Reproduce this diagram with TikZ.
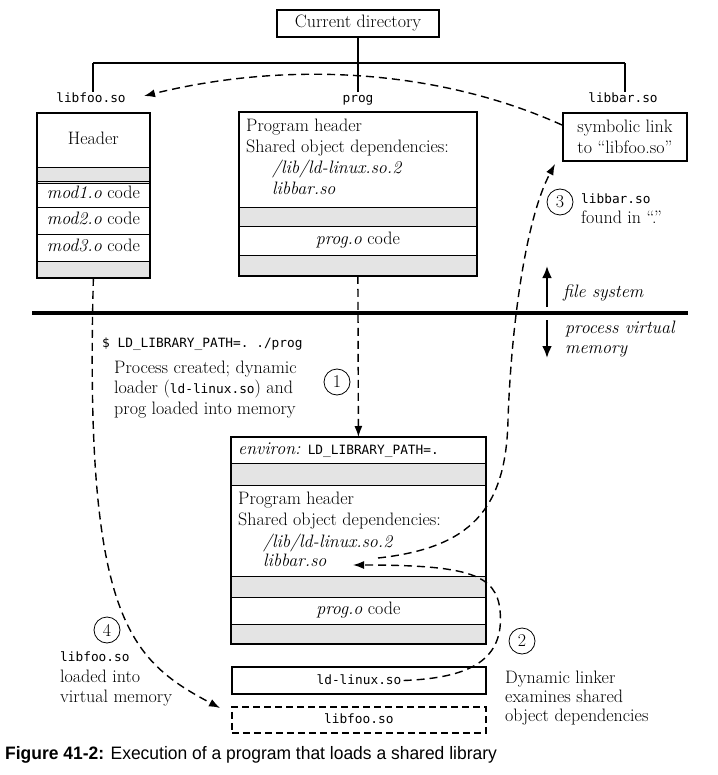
\documentclass[tikz,border=0pt]{standalone}
\usepackage{fontspec}
\setmonofont{DejaVu Sans Mono}
\newfontfamily\capfont{Liberation Sans}
\usetikzlibrary{arrows.meta}
\definecolor{secgray}{HTML}{E4E4E4}
\newcommand\serifsz{\fontsize{18}{21}\selectfont}
\newcommand\monosz{\fontsize{12.8}{15}\ttfamily}
\newcommand\monot[1]{{\monosz #1}}
\begin{document}
\begin{tikzpicture}[x=1pt,y=-1pt,
  every node/.style={inner sep=0pt},
  txt/.style={font=\serifsz, text height=12pt, text depth=4pt, inner sep=0pt},
  itx/.style={txt, font=\serifsz\itshape},
  monolbl/.style={font=\monosz, text height=10pt, text depth=3pt, inner sep=0pt},
  part/.style={draw, line width=0.8pt, anchor=north west, txt},
  shade/.style={part, fill=secgray},
  outerbox/.style={draw, line width=2pt},
  tree/.style={line width=2pt},
  dasharrow/.style={line width=1.4pt, dash pattern=on 8pt off 5pt, -{Latex[length=11pt,width=8pt]}},
  circ/.style={draw, circle, line width=0.8pt, minimum size=26pt, font=\serifsz},
  sepline/.style={line width=3.5pt},
  bigarrow/.style={line width=2.5pt, -{Latex[length=12pt,width=10pt]}}
]
\useasboundingbox (0,0) rectangle (717,775);

% Current directory and tree
\node[draw, line width=2pt, minimum width=162pt, minimum height=27pt, txt] (cd) at (358,23.5) {Current directory};
\coordinate (tl) at (93,63);
\coordinate (tm) at (358,63);
\coordinate (tr) at (625,63);
\node[monolbl, anchor=north] (lblfoo) at (91,92) {libfoo.so};
\node[monolbl, anchor=north] (lblprog) at (358,92) {prog};
\node[monolbl, anchor=north] (lblbar) at (623,92) {libbar.so};
\draw[tree] (tl) -- (tr);
\draw[tree] (cd.south) -- (lblprog.north);
\draw[tree] (tl) -- (lblfoo.north -| tl);
\draw[tree] (tr) -- (lblbar.north -| tr);

% libfoo.so file
\node[part, minimum width=112pt, minimum height=54pt] (lf1) at (37,113) {Header};
\node[shade, minimum width=112pt, minimum height=14pt] (lf2) at (37,167) {};
\node[part, minimum width=112pt, minimum height=26pt] (lf3) at (37,181) {\textit{mod1.o} code};
\node[part, minimum width=112pt, minimum height=27pt] (lf4) at (37,207) {\textit{mod2.o} code};
\node[part, minimum width=112pt, minimum height=27pt] (lf5) at (37,234) {\textit{mod3.o} code};
\node[shade, minimum width=112pt, minimum height=14pt] (lf6) at (37,261) {};
\draw[outerbox] (lf1.north west) rectangle (lf6.south east);

% prog file
\node[part, minimum width=237pt, minimum height=95pt] (pg1) at (239,112) {};
\node[shade, minimum width=237pt, minimum height=19pt] (pg2) at (239,207) {};
\node[part, minimum width=237pt, minimum height=29pt] (pg3) at (239,226) {\textit{prog.o} code};
\node[shade, minimum width=237pt, minimum height=20pt] (pg4) at (239,255) {};
\draw[outerbox] (pg1.north west) rectangle (pg4.south east);
\node[txt, anchor=west] (pgt1) at (246,128) {Program header};
\node[txt, anchor=west] (pgt2) at (246,149) {Shared object dependencies:};
\node[itx, anchor=west] (pgt3) at (272,170) {/lib/ld-linux.so.2};
\node[itx, anchor=west] (pgt4) at (272,191) {libbar.so};

% symbolic link
\node[draw, line width=2pt, minimum width=124pt, minimum height=48pt, align=center, font=\serifsz] (sym) at (625,137) {symbolic link\\to “libfoo.so”};

% separator
\coordinate (sepL) at (32,313);
\coordinate (sepR) at (688,313);
\draw[sepline] (sepL) -- (sepR);
\coordinate (upA) at (547,307);
\coordinate (upB) at (547,266);
\coordinate (dnA) at (547,320);
\coordinate (dnB) at (547,358);
\draw[bigarrow] (upA) -- (upB);
\draw[bigarrow] (dnA) -- (dnB);
\node[itx, anchor=west] (fs) at (563,293) {file system};
\node[itx, anchor=west] (pv1) at (565,329) {process virtual};
\node[itx, anchor=west] (pv2) at (565,349) {memory};

% step 1 text
\node[monolbl, anchor=west] (cmd) at (102,344) {\$ LD\_LIBRARY\_PATH=. ./prog};
\node[txt, anchor=west] (s1a) at (114,369) {Process created; dynamic};
\node[txt, anchor=west] (s1b) at (114,389) {loader (\monot{ld-linux.so}) and};
\node[txt, anchor=west] (s1c) at (114,410) {prog loaded into memory};
\node[circ] (c1) at (337,382) {1};

% process memory
\node[part, minimum width=254pt, minimum height=26pt] (m1) at (231,437) {};
\node[shade, minimum width=254pt, minimum height=22pt] (m2) at (231,463) {};
\node[part, minimum width=254pt, minimum height=91pt] (m3) at (231,485) {};
\node[shade, minimum width=254pt, minimum height=21pt] (m4) at (231,576) {};
\node[part, minimum width=254pt, minimum height=27pt] (m5) at (231,597) {\textit{prog.o} code};
\node[shade, minimum width=254pt, minimum height=19pt] (m6) at (231,624) {};
\draw[outerbox] (m1.north west) rectangle (m6.south east);
\node[txt, anchor=west] (env) at (238,450) {\textit{environ:} \monot{LD\_LIBRARY\_PATH=.}};
\node[txt, anchor=west] (mt1) at (238,500) {Program header};
\node[txt, anchor=west] (mt2) at (238,521) {Shared object dependencies:};
\node[itx, anchor=west] (mt3) at (263,543) {/lib/ld-linux.so.2};
\node[itx, anchor=west] (mt4) at (263,562) {libbar.so};

\node[draw, line width=2pt, anchor=north west, minimum width=254pt, minimum height=27pt] (ld) at (231,666) {};
\node[monolbl] (ldt) at (ld.center) {ld-linux.so};
\node[draw, line width=1.6pt, dash pattern=on 7pt off 4pt, anchor=north west, minimum width=254pt, minimum height=26pt] (lfd) at (231,706) {};
\node[monolbl] (lfdt) at (lfd.center) {libfoo.so};

% arrow 1
\draw[dasharrow] (pg4.south) -- (m1.north);

% arrow symbolic link -> libfoo.so
\coordinate (a5end) at (144,96);
\draw[dasharrow] ([yshift=12pt]sym.west) .. controls (440,70) and (290,60) .. (a5end);

% arrow 2
\coordinate (a2end) at (353,565);
\draw[dasharrow] ([xshift=2pt]ldt.east) .. controls (470,678) and (505,660) .. (500,610) .. controls (496,575) and (470,565) .. (a2end);
\node[circ] (c2) at (522,641) {2};
\node[txt, anchor=west] (s2a) at (505,679) {Dynamic linker};
\node[txt, anchor=west] (s2b) at (505,698) {examines shared};
\node[txt, anchor=west] (s2c) at (505,717) {object dependencies};

% arrow 3
\coordinate (a3start) at (378,558);
\coordinate (a3end) at (555,164);
\draw[dasharrow] (a3start) .. controls (470,548) and (506,510) .. (508,420) .. controls (511,330) and (525,220) .. (a3end);
\node[circ] (c3) at (560,202) {3};
\node[monolbl, anchor=west] (s3a) at (581,200) {libbar.so};
\node[txt, anchor=west] (s3b) at (581,220) {found in “.”};

% arrow 4
\coordinate (a4end) at (220,708);
\draw[dasharrow] (lf6.south) .. controls (84,620) and (130,660) .. (a4end);
\node[circ] (c4) at (107,630) {4};
\node[monolbl, anchor=west] (s4a) at (60,658) {libfoo.so};
\node[txt, anchor=west] (s4b) at (60,678) {loaded into};
\node[txt, anchor=west] (s4c) at (60,698) {virtual memory};

% caption
\node[anchor=west] (cap) at (5,755) {\capfont\fontsize{18}{20}\selectfont\scalebox{0.97}[1]{\textbf{Figure 41-2:} Execution of a program that loads a shared library}};
\end{tikzpicture}
\end{document}
